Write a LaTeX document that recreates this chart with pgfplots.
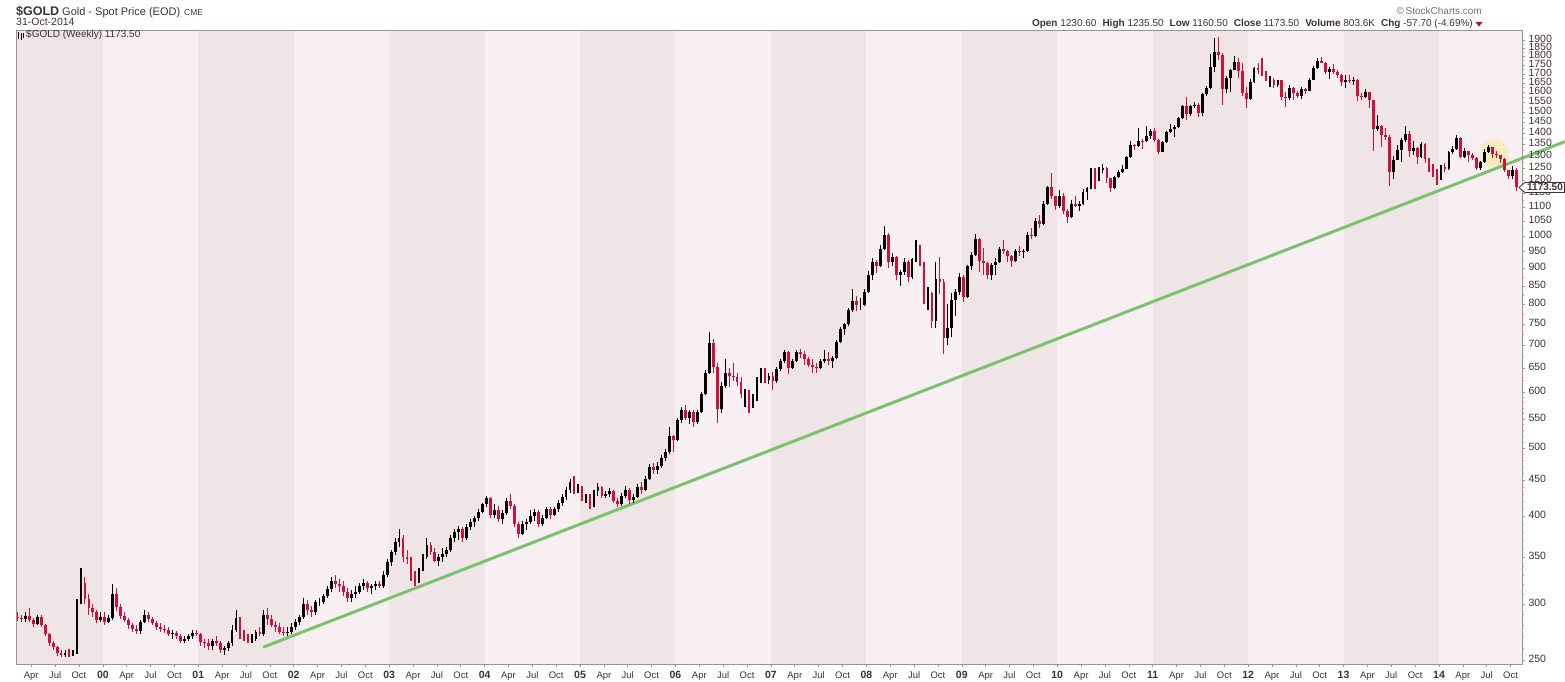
\documentclass[border=0pt]{standalone}
\usepackage{pgfplots}
\usepackage{pgfplotstable}
\pgfplotsset{compat=1.18}
\usepackage{fontspec}
\setmainfont{Liberation Sans}
\definecolor{banddark}{RGB}{239,229,231}
\definecolor{bandlight}{RGB}{247,239,241}
\definecolor{axiscol}{RGB}{160,145,145}
\definecolor{labcol}{RGB}{60,50,50}
\definecolor{candred}{RGB}{208,16,56}
\definecolor{trend}{RGB}{122,194,110}
\definecolor{hilite}{RGB}{248,236,176}

\pgfplotstableread{
o h l c
288 292 284 287
287 290 283 286
286 292 283 289
289 296 283 285
285 287 278 281
281 290 280 288
288 290 278 280
280 281 270 272
272 273 262 264
264 266 258 261
261 262 253 256
256 258 252 254
254 258 252 256
256 259 252 254
254 258 253 256
256 305 255 302
302 338 300 322
322 328 300 305
305 310 290 296
296 300 288 292
292 294 282 285
285 292 283 288
288 292 280 283
283 290 282 287
287 320 285 310
310 316 293 297
297 300 286 289
289 292 283 285
285 287 277 280
280 282 274 277
277 280 272 275
275 285 272 283
283 294 282 290
290 292 283 286
286 288 280 282
282 284 276 278
278 282 274 277
277 280 273 276
276 278 270 272
272 276 268 273
273 275 268 270
270 272 264 266
266 270 264 268
268 272 266 270
270 276 268 273
273 276 270 272
272 273 262 265
265 268 260 264
264 268 258 262
262 268 258 266
266 270 262 264
264 266 256 258
258 262 254 260
260 266 257 264
264 280 262 276
276 294 274 287
287 288 268 272
272 276 266 270
270 272 264 267
267 272 264 268
268 276 266 274
274 278 270 272
272 294 270 290
290 296 280 286
286 290 278 280
280 284 274 278
278 282 272 274
274 278 270 273
273 278 270 274
274 282 272 278
278 286 276 283
283 290 280 288
288 306 286 300
300 304 290 294
294 298 288 292
292 304 290 302
302 306 298 302
302 310 300 308
308 318 306 315
315 328 312 324
324 330 316 320
320 326 312 318
318 324 308 312
312 316 302 306
306 314 302 310
310 318 306 312
312 322 310 318
318 326 314 322
322 324 312 316
316 320 310 318
318 324 314 320
320 324 316 318
318 334 316 330
330 348 328 344
344 358 340 356
356 372 352 368
368 384 362 372
372 376 344 350
350 358 342 348
348 350 324 330
330 334 318 325
325 338 322 336
336 354 334 350
350 372 348 364
364 368 352 356
356 360 344 346
346 354 340 350
350 360 344 354
354 362 350 358
358 376 356 372
372 384 368 380
380 388 370 384
384 386 368 372
372 390 370 386
386 396 382 392
392 400 386 398
398 410 394 406
406 418 404 416
416 428 412 424
424 426 398 402
402 416 398 408
408 414 392 396
396 408 390 404
404 424 402 420
420 430 410 414
414 416 386 390
390 392 372 378
378 394 376 390
390 396 382 392
392 408 390 400
400 410 394 406
406 408 386 390
390 402 388 398
398 412 396 410
410 412 396 402
402 412 400 410
410 422 406 418
418 430 414 426
426 440 422 436
436 452 432 448
448 456 430 434
434 444 432 440
440 442 420 424
424 430 418 426
426 430 410 414
414 436 412 434
434 446 428 440
440 442 424 428
428 434 424 430
430 438 426 434
434 436 418 420
420 424 412 416
416 432 414 428
428 442 424 436
436 438 416 422
422 430 418 426
426 444 424 440
440 448 430 436
436 456 434 452
452 474 450 470
470 476 460 466
466 478 460 472
472 488 468 484
484 498 480 494
494 536 490 520
520 522 494 514
514 552 512 548
548 572 542 566
566 576 548 552
552 566 540 562
562 566 536 544
544 566 540 562
562 600 560 596
596 646 594 640
640 730 636 706
706 714 640 652
652 660 542 568
568 620 560 612
612 670 608 640
640 650 610 632
632 660 622 630
630 640 612 620
620 630 588 596
596 606 572 600
600 604 560 574
574 596 570 588
588 630 584 624
624 650 618 642
642 650 618 624
624 640 616 632
632 642 604 622
622 652 618 648
648 670 644 664
664 690 660 684
684 686 636 650
650 668 648 664
664 690 662 684
684 692 672 680
680 686 656 668
668 674 652 656
656 668 640 652
652 660 640 650
650 668 648 664
664 690 660 670
670 684 656 664
664 676 650 672
672 712 670 708
708 744 704 738
738 752 724 750
750 790 746 786
786 842 780 810
810 822 782 798
798 816 786 798
798 840 796 834
834 892 830 882
882 930 866 920
920 924 886 908
908 972 904 960
960 1034 956 1004
1004 1010 900 920
920 946 908 934
934 938 866 880
880 896 850 888
888 932 880 920
920 924 860 874
874 932 868 928
928 988 920 960
960 970 908 916
916 920 800 812
812 846 786 830
830 832 740 758
758 918 740 870
870 934 828 860
860 868 680 716
716 800 700 740
740 830 718 812
812 840 770 834
834 886 826 874
874 882 806 820
820 910 816 906
906 950 896 940
940 1006 936 990
990 994 890 922
922 962 880 916
916 918 868 880
880 916 866 910
910 930 880 920
920 966 916 960
960 988 944 952
952 956 920 936
936 940 904 922
922 958 918 952
952 968 938 948
948 960 932 954
954 1012 950 1004
1004 1026 990 1000
1000 1062 996 1050
1050 1070 1026 1040
1040 1120 1036 1112
1112 1180 1108 1176
1176 1228 1130 1140
1140 1140 1090 1104
1104 1162 1096 1140
1140 1150 1074 1084
1084 1094 1044 1064
1064 1126 1060 1110
1110 1140 1100 1104
1104 1120 1086 1110
1110 1168 1108 1154
1154 1176 1126 1170
1170 1250 1166 1230
1230 1248 1166 1210
1210 1254 1198 1240
1240 1266 1230 1250
1250 1254 1190 1208
1208 1210 1156 1170
1170 1216 1168 1212
1212 1240 1208 1232
1232 1260 1228 1246
1246 1300 1244 1296
1296 1364 1292 1346
1346 1350 1326 1342
1342 1424 1340 1366
1366 1376 1330 1364
1364 1432 1360 1388
1388 1420 1374 1410
1410 1424 1360 1370
1370 1374 1308 1318
1318 1366 1316 1360
1360 1412 1356 1408
1408 1444 1400 1420
1420 1440 1384 1430
1430 1476 1426 1472
1472 1536 1468 1530
1530 1576 1460 1492
1492 1536 1480 1532
1532 1550 1520 1538
1538 1546 1478 1496
1496 1596 1480 1594
1594 1632 1580 1626
1626 1816 1620 1740
1740 1912 1708 1828
1828 1920 1780 1810
1810 1820 1534 1620
1620 1690 1596 1680
1680 1730 1600 1724
1724 1802 1720 1770
1770 1788 1680 1718
1718 1760 1584 1596
1596 1628 1522 1566
1566 1670 1560 1654
1654 1740 1648 1736
1736 1764 1700 1724
1724 1792 1690 1708
1708 1718 1660 1664
1664 1690 1630 1668
1668 1680 1624 1642
1642 1666 1630 1664
1664 1666 1560 1576
1576 1600 1526 1570
1570 1640 1560 1626
1626 1630 1560 1596
1596 1608 1570 1582
1582 1628 1568 1620
1620 1626 1594 1610
1610 1676 1608 1666
1666 1744 1664 1736
1736 1790 1730 1772
1772 1796 1760 1764
1764 1768 1700 1712
1712 1738 1672 1728
1728 1754 1700 1712
1712 1720 1680 1696
1696 1700 1636 1658
1658 1696 1626 1668
1668 1694 1652 1660
1660 1684 1640 1668
1668 1674 1554 1580
1580 1598 1562 1576
1576 1616 1570 1600
1600 1602 1520 1560
1560 1560 1322 1420
1420 1488 1410 1436
1436 1440 1338 1390
1390 1424 1370 1382
1382 1390 1180 1234
1234 1300 1206 1284
1284 1346 1282 1324
1324 1380 1274 1368
1368 1434 1360 1396
1396 1412 1296 1320
1320 1366 1304 1334
1334 1338 1266 1296
1296 1360 1290 1350
1350 1356 1270 1288
1288 1292 1232 1246
1246 1268 1212 1236
1236 1246 1182 1204
1204 1262 1200 1252
1252 1272 1232 1244
1244 1320 1240 1316
1316 1344 1308 1330
1330 1392 1326 1380
1380 1384 1290 1294
1294 1332 1290 1320
1320 1322 1276 1302
1302 1312 1284 1292
1292 1296 1242 1250
1250 1278 1240 1274
1274 1330 1270 1318
1318 1346 1314 1338
1338 1340 1290 1306
1306 1322 1290 1302
1302 1304 1270 1286
1286 1290 1234 1240
1240 1242 1206 1216
1216 1256 1204 1240
1240 1250 1160 1174
}\gold
\pgfplotstablecreatecol[create col/expr={1999.0833+(\pgfplotstablerow+0.5)/24}]{t}{\gold}

\pgfplotsset{
  candle/.style n args={2}{draw=none, mark=none, forget plot,
    error bars/y dir=plus, error bars/y explicit, error bars/error mark=none,
    error bars/error bar style={line width=#2, draw=#1, solid}},
}

\begin{document}
\begin{tikzpicture}[x=1pt,y=1pt]
\useasboundingbox (0,0) rectangle (1565,681);
\begin{axis}[
  at={(16pt,17pt)}, anchor=south west,
  width=1506pt, height=634pt, scale only axis,
  ymode=log,
  xmin=1999.09, xmax=2014.87, ymin=246.7, ymax=1963,
  clip=false, axis on top,
  axis background/.style={fill=bandlight},
  axis line style={axiscol, line width=0.8pt},
  tick style={axiscol, line width=0.6pt},
  tick align=outside,
  major tick length=3pt, minor tick length=2pt,
  ytick pos=right, yticklabel pos=right,
  xtick pos=bottom,
  ytick={250,300,...,1900},
  minor ytick={260,270,280,290,310,320,330,340,360,370,380,390,410,420,430,440,460,470,480,490,510,520,530,540,560,570,580,590,625,675,725,775,825,875,925,975,1025,1075,1125,1175,1225,1275,1325,1375,1425,1475,1525,1575,1625,1675,1725,1775,1825,1875},
  log ticks with fixed point,
  /pgf/number format/fixed, /pgf/number format/precision=0,
  /pgf/number format/1000 sep={}, /pgf/number format/assume math mode=true,
  yticklabel style={font=\fontsize{10.5}{12}\selectfont, text=labcol},
  xtick={2000,2001,...,2014},
  xticklabels={00,01,02,03,04,05,06,07,08,09,10,11,12,13,14},
  xticklabel style={font=\fontsize{10.5}{12}\selectfont\bfseries, text=labcol},
  typeset ticklabels with strut,
  extra x ticks={1999.25,1999.5,1999.75,2000.25,2000.5,2000.75,2001.25,2001.5,2001.75,2002.25,2002.5,2002.75,2003.25,2003.5,2003.75,2004.25,2004.5,2004.75,2005.25,2005.5,2005.75,2006.25,2006.5,2006.75,2007.25,2007.5,2007.75,2008.25,2008.5,2008.75,2009.25,2009.5,2009.75,2010.25,2010.5,2010.75,2011.25,2011.5,2011.75,2012.25,2012.5,2012.75,2013.25,2013.5,2013.75,2014.25,2014.5,2014.75},
  extra x tick labels={Apr,Jul,Oct,Apr,Jul,Oct,Apr,Jul,Oct,Apr,Jul,Oct,Apr,Jul,Oct,Apr,Jul,Oct,Apr,Jul,Oct,Apr,Jul,Oct,Apr,Jul,Oct,Apr,Jul,Oct,Apr,Jul,Oct,Apr,Jul,Oct,Apr,Jul,Oct,Apr,Jul,Oct,Apr,Jul,Oct,Apr,Jul,Oct},
  extra x tick style={xticklabel style={font=\fontsize{9.5}{12}\selectfont\mdseries, text=labcol}},
]
% year bands
\fill[banddark] (axis cs:1999.09,246.7) rectangle (axis cs:2000,1963);
\fill[banddark] (axis cs:2001,246.7) rectangle (axis cs:2002,1963);
\fill[banddark] (axis cs:2003,246.7) rectangle (axis cs:2004,1963);
\fill[banddark] (axis cs:2005,246.7) rectangle (axis cs:2006,1963);
\fill[banddark] (axis cs:2007,246.7) rectangle (axis cs:2008,1963);
\fill[banddark] (axis cs:2009,246.7) rectangle (axis cs:2010,1963);
\fill[banddark] (axis cs:2011,246.7) rectangle (axis cs:2012,1963);
\fill[banddark] (axis cs:2013,246.7) rectangle (axis cs:2014,1963);
% highlight
\fill[hilite, opacity=0.8] (axis cs:2014.58,1311) circle[radius=14pt];
% trend line
\addplot[trend, line width=3pt, no markers, forget plot] coordinates {(2001.68,260.6) (2015.33,1364)};
% up candles: wicks and bodies
\addplot[restrict expr to domain={\thisrow{c}-\thisrow{o}}{0:100000},
  candle={black}{1.1pt}]
  table[x=t, y=l, y error plus expr={\thisrow{h}-\thisrow{l}}]{\gold};
\addplot[restrict expr to domain={\thisrow{c}-\thisrow{o}}{0:100000},
  candle={black}{2.8pt}]
  table[x=t, y=o, y error plus expr={\thisrow{c}-\thisrow{o}}]{\gold};
% down candles
\addplot[restrict expr to domain={\thisrow{c}-\thisrow{o}}{-100000:-0.5},
  candle={candred}{1.1pt}]
  table[x=t, y=l, y error plus expr={\thisrow{h}-\thisrow{l}}]{\gold};
\addplot[restrict expr to domain={\thisrow{c}-\thisrow{o}}{-100000:-0.5},
  candle={candred}{2.8pt}]
  table[x=t, y=c, y error plus expr={\thisrow{o}-\thisrow{c}}]{\gold};
\end{axis}
% header
\node[anchor=base west, inner sep=0, font=\fontsize{12.5}{14}\selectfont\bfseries, text=labcol] at (16,665) {\$GOLD};
\node[anchor=base west, inner sep=0, font=\fontsize{11}{13}\selectfont, text=labcol] at (62,665) {Gold - Spot Price (EOD)};
\node[anchor=base west, inner sep=0, font=\fontsize{8.5}{10}\selectfont, text=labcol] at (184,665) {CME};
\node[anchor=base west, inner sep=0, font=\fontsize{10.5}{12}\selectfont, text=labcol] at (16,655) {31-Oct-2014};
% legend icon + text inside the plot
\fill[black] (18,642) rectangle (19.2,648.5);
\fill[black] (20.5,641) rectangle (21.7,647.5);
\fill[black] (23,642.5) rectangle (24.2,648);
\node[anchor=base west, inner sep=0, font=\fontsize{10}{12}\selectfont, text=labcol] at (26,643.5) {\$GOLD (Weekly) 1173.50};
\node[anchor=base east, inner sep=0, font=\fontsize{10}{12}\selectfont, text=black!55] at (1482,666) {\textcopyright\,StockCharts.com};
\node[anchor=base east, inner sep=0, font=\fontsize{10}{12}\selectfont, text=labcol] at (1473,654)
  {\textbf{Open} 1230.60\hspace{6pt}\textbf{High} 1235.50\hspace{6pt}\textbf{Low} 1160.50\hspace{6pt}\textbf{Close} 1173.50\hspace{6pt}\textbf{Volume} 803.6K\hspace{6pt}\textbf{Chg} -57.70 (-4.69\%)};
\fill[candred!85!black] (1475.5,659) -- (1482.5,659) -- (1479,654.5) -- cycle;
% last price tag
\filldraw[fill=white, draw=labcol, line width=0.8pt] (1519,493.5) -- (1525,498.5) -- (1564.5,498.5) -- (1564.5,488.5) -- (1525,488.5) -- cycle;
\node[inner sep=0, font=\fontsize{10}{12}\selectfont\bfseries, text=labcol] at (1545,493.5) {1173.50};
\end{tikzpicture}
\end{document}
